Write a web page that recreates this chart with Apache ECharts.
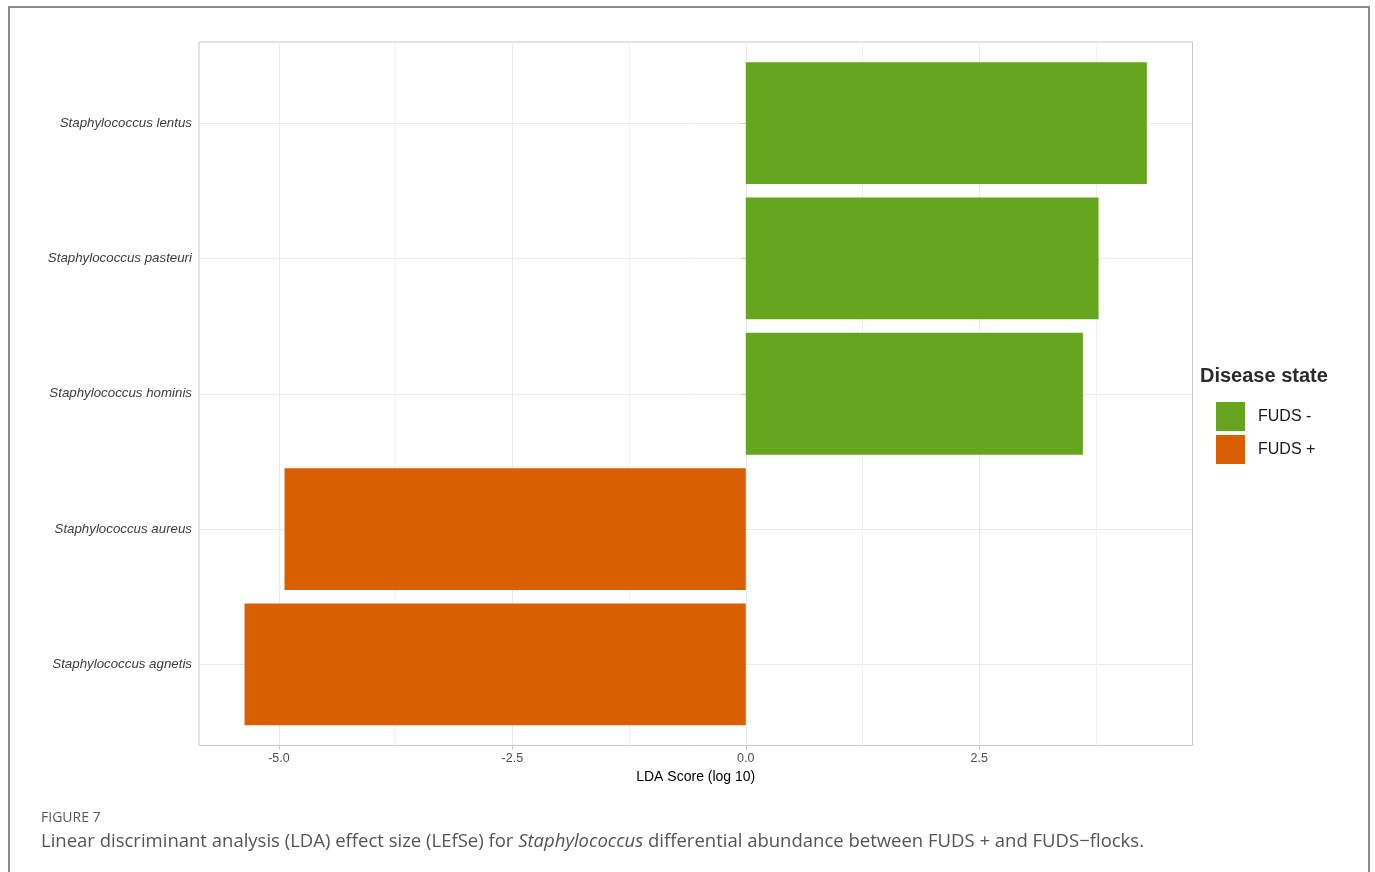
<!DOCTYPE html>
<html>
<head>
<meta charset="utf-8">
<title>LEfSe – Staphylococcus</title>
<script src="https://cdn.jsdelivr.net/npm/echarts@6/dist/echarts.min.js"></script>
<style>
  html, body { margin: 0; padding: 0; background: #fff; }
  #chart { width: 1375px; height: 872px; }
</style>
</head>
<body>
<div id="chart"></div>
<script>
// Species, top to bottom
const species = [
  'Staphylococcus lentus',
  'Staphylococcus pasteuri',
  'Staphylococcus hominis',
  'Staphylococcus aureus',
  'Staphylococcus agnetis'
];
// LDA score (log 10) per species
const ldaScores = [4.295, 3.778, 3.61, -4.94, -5.368];
// Disease state of the flock where each species is enriched
const diseaseState = ['FUDS -', 'FUDS -', 'FUDS -', 'FUDS +', 'FUDS +'];
const stateNames = ['FUDS -', 'FUDS +'];
const stateColors = ['#66A61E', '#D95F02'];
// x axis ticks
const majorTicks = [-5, -2.5, 0, 2.5];
const minorTicks = [-3.75, -1.25, 1.25, 3.75];
const xMin = -5.856, xMax = 4.784;

const gridLine = '#ebebeb';
const frameGray = '#c8c8c8';

const series = stateNames.map((name, k) => ({
  name: name,
  type: 'bar',
  stack: 'lda',
  xAxisIndex: 2,
  yAxisIndex: 1,
  barWidth: '90%',
  itemStyle: { color: stateColors[k] },
  data: ldaScores.map((v, i) => diseaseState[i] === name ? v : '-')
}));

const chart = echarts.init(document.getElementById('chart'), null, { renderer: 'canvas' });
chart.setOption({
  animation: false,
  grid: [
    // panel
    { left: 199, right: 182.5, top: 42, bottom: 126.5, show: true,
      borderColor: frameGray, borderWidth: 1, backgroundColor: 'transparent' },
    // category area inside the panel
    { left: 199, right: 182.5, top: 55.5, bottom: 140 }
  ],
  xAxis: [
    {
      gridIndex: 0, type: 'value', min: xMin, max: xMax, position: 'bottom',
      name: 'LDA Score (log 10)', nameLocation: 'middle', nameGap: 24,
      nameTextStyle: { color: '#000', fontSize: 14, fontFamily: 'Liberation Sans' },
      axisLine: { show: false },
      axisTick: { show: true, length: 4, customValues: majorTicks,
        lineStyle: { color: frameGray } },
      axisLabel: { customValues: majorTicks, margin: 7, color: '#4d4d4d', fontSize: 12.5,
        fontFamily: 'Liberation Sans', formatter: v => v.toFixed(1) },
      splitLine: { show: true, lineStyle: { color: gridLine, width: 1 } }
    },
    {
      gridIndex: 0, type: 'value', min: xMin, max: xMax, position: 'top',
      axisLine: { show: false },
      axisTick: { show: false, customValues: minorTicks },
      axisLabel: { show: false, customValues: minorTicks },
      splitLine: { show: true, lineStyle: { color: '#f1f1f1', width: 1 } }
    },
    {
      gridIndex: 1, type: 'value', min: xMin, max: xMax, show: false
    }
  ],
  yAxis: [
    { gridIndex: 0, type: 'value', min: 0, max: 1, show: false },
    {
      gridIndex: 1, type: 'category', data: species, inverse: true,
      axisLine: { show: false },
      axisTick: { show: true, alignWithLabel: true, length: 4, lineStyle: { color: frameGray } },
      axisLabel: { margin: 7, color: '#3d3d3d', fontSize: 13.3, fontStyle: 'italic',
        fontFamily: 'Liberation Sans', padding: [3, 0, 0, 0] },
      splitLine: { show: true, alignWithLabel: true, interval: 0,
        lineStyle: { color: gridLine, width: 1 } }
    }
  ],
  legend: {
    data: stateNames,
    orient: 'vertical',
    left: 1211, top: 397,
    icon: 'rect',
    itemWidth: 29, itemHeight: 29, itemGap: 4,
    selectedMode: false,
    textStyle: { color: '#1a1a1a', fontSize: 16, fontFamily: 'Liberation Sans',
      padding: [0, 0, 0, 8] }
  },
  series: series,
  graphic: [
    { type: 'text', left: 1200, top: 366,
      style: { text: 'Disease state', fontSize: 20, fontWeight: 'bold',
        fontFamily: 'Liberation Sans', fill: '#2b2b2b' } },
    // page frame
    { type: 'polyline', shape: { points: [[9, 872], [9, 7], [1369, 7], [1369, 872]] },
      style: { stroke: '#8a8a8a', lineWidth: 2, fill: null } },
    { type: 'text', left: 41, top: 811,
      style: { text: 'FIGURE 7', fontSize: 14, fontFamily: 'Open Sans', fill: '#5a5a5a' } },
    { type: 'text', left: 41, top: 832,
      style: {
        text: '{a|Linear discriminant analysis (LDA) effect size (LEfSe) for }{i|Staphylococcus}{a| differential abundance between FUDS + and FUDS\u2212flocks.}',
        rich: {
          a: { fontSize: 18.5, fontFamily: 'Open Sans', fill: '#555555' },
          i: { fontSize: 18.5, fontFamily: 'Open Sans', fontStyle: 'italic', fill: '#555555' }
        }
      } }
  ]
});
</script>
</body>
</html>
